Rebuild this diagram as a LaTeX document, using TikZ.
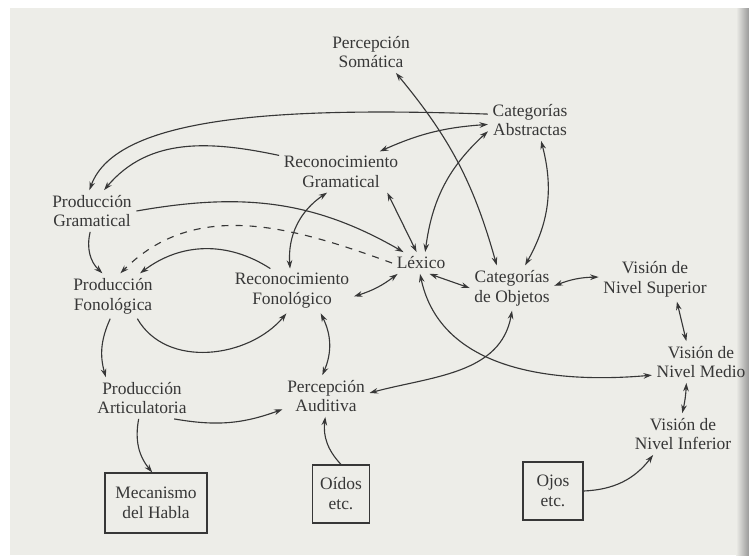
\documentclass[tikz,border=0pt]{standalone}
\usepackage{fontspec}
\setmainfont{Liberation Serif}
\usetikzlibrary{arrows.meta}

\definecolor{hoja}{RGB}{237,237,232}
\definecolor{tinta}{RGB}{55,55,55}

\begin{document}
\begin{tikzpicture}[x=0.025cm, y=-0.025cm, thick, color=tinta,
  >={Stealth[length=6pt,width=4pt]},
  every node/.style={align=center, inner sep=3pt, text=tinta, font=\fontsize{12.4}{14.2}\selectfont},
  caja/.style={draw=tinta, minimum width=1.5cm, minimum height=1.45cm}]
%%%

% page
\fill[hoja] (0,0) rectangle (749,555);
\fill[white] (0,0) rectangle (749,8);
\fill[white] (0,0) rectangle (10,555);
\shade[left color=hoja, right color=black!40] (736,8) rectangle (749,555);  % gutter
\useasboundingbox (0,0) rectangle (749,555);

\node (PerSom) at (371, 52) {Percepción\\Somática};
\node (CatAbs) at (530, 120) {Categorías\\Abstractas};
\node (RecGram) at (341, 172) {Reconocimiento\\Gramatical};
\node (ProdGram) at (92, 211) {Producción\\Gramatical};
\node (Lex) at (421, 263) {Léxico};
\node (ProdFon) at (113, 296) {Producción\\Fonológica};
\node (RecFon) at (292, 291) {Reconocimiento\\Fonológico};
\node (CatObj) at (512, 288) {Categorías\\de Objetos};
\node (VisSup) at (655, 279) {Visión de\\Nivel Superior};
\node (VisMed) at (701, 362) {Visión de\\Nivel Medio};
\node (VisInf) at (683, 434) {Visión de\\Nivel Inferior};
\node (ProdArt) at (142, 398) {Producción\\Articulatoria};
\node (PercAud) at (326, 396) {Percepción\\Auditiva};

% boxes
\node[caja, minimum width=2.55cm, minimum height=1.5cm] (Mecan) at (156, 503) {Mecanismo\\del Habla};
\node[caja, minimum width=1.43cm] (Oidos) at (341, 494) {Oídos\\etc.};
\node[caja] (Ojos) at (553, 491) {Ojos\\etc.};

% arrows
\draw[->] (CatAbs.172) to[out=178, in=70, out looseness=1.3, in looseness=0.5] (ProdGram.97);
\draw[->] (RecGram.165) to[out=168, in=50] (ProdGram.60);
\draw[<->] (RecGram.28) to[bend left=10] (CatAbs.186);
\draw[<->] (PerSom.-40) to[bend left=12] (CatObj.124);
\draw[<->] (CatAbs.195) to[bend right=20] (Lex.69);
\draw[<->] (CatAbs.-62) to[bend left=22] (CatObj.60);
\draw[<->] (RecGram.-24) -- (Lex.112);
\draw[->] (ProdGram.0) to[out=10, in=150] (Lex.148);
\draw[->, dash pattern=on 5pt off 5pt] (Lex.180) to[out=160, in=45] (ProdFon.72);
\draw[->] (RecFon.134) to[bend right=35] (ProdFon.40);
\draw[->] (ProdGram.-95) to[bend right=30] (ProdFon.115);
\draw[<->] (RecGram.236) to[bend right=30] (RecFon.95);
\draw[<->] (Lex.205) to[bend left=10] (RecFon.-5);
\draw[<->] (Lex.-52) -- (CatObj.180);
\draw[->] (ProdFon.-43) to[out=-60, in=230] (RecFon.-104);
\draw[->] (ProdFon.-97) to[bend right=20] (ProdArt.150);
\draw[<->] (RecFon.-38) to[bend left=25] (PercAud.100);
\draw[->] (ProdArt.-33) to[bend right=15] (PercAud.197);
\draw[->] (ProdArt.-99) to[bend right=25] (Mecan.97);
\draw[->] (Oidos.north) to[bend left=25] (PercAud.-92);
\draw[<->] (PercAud.4) to[out=15, in=-100] (CatObj.-90);
\draw[<->] (Lex.-95) to[out=-78, in=185] (VisMed.195);
\draw[<->] (CatObj.3) to[bend left=10] (VisSup.178);
\draw[<->] (VisSup.-46) -- (VisMed.125);
\draw[<->] (VisMed.235) to[bend left=5] (VisInf.92);
\draw[->] (Ojos.east) to[bend right=25] (VisInf.215);
%%%
\end{tikzpicture}
\end{document}
